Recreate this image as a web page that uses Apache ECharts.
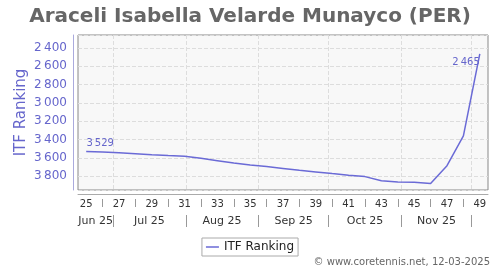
<!DOCTYPE html>
<html><head><meta charset="utf-8">
<script src="https://cdn.jsdelivr.net/npm/echarts@6/dist/echarts.min.js"></script>
<style>html,body{margin:0;padding:0;background:#fff}#c{width:500px;height:270px}</style>
</head><body><div id="c"></div>
<script>
const titleText = 'Araceli Isabella Velarde Munayco (PER)';
const seriesName = 'ITF Ranking';
const weeks = ['25','26','27','28','29','30','31','32','33','34','35','36','37','38','39','40','41','42','43','44','45','46','47','48','49'];
const ranking = [3529,3535,3545,3556,3567,3575,3582,3605,3630,3655,3677,3695,3715,3735,3753,3771,3788,3804,3850,3862,3866,3880,3685,3360,2465];
const monthLabels = ['Jun 25','Jul 25','Aug 25','Sep 25','Oct 25','Nov 25','Dec 25'];
const monthStarts = ['2025-06-01','2025-07-01','2025-08-01','2025-09-01','2025-10-01','2025-11-01','2025-12-01','2026-01-01'];
const firstWeekMonday = '2025-06-16';
const copyright = '\u00a9 www.coretennis.net, 12-03-2025';

const firstWeek = Number(weeks[0]);
const lo = firstWeek - 0.5, hi = Number(weeks[weeks.length-1]) + 0.5;
const mondayT = Date.parse(firstWeekMonday);
const pos = d => lo + (Date.parse(d) - mondayT) / (7*864e5);
const boundaries = monthStarts.map(pos).filter(p => p > lo && p < hi);
const mids = [];
for (let i = 0; i < monthLabels.length; i++) {
  const a = Math.max(pos(monthStarts[i]), lo), b = Math.min(pos(monthStarts[i+1]), hi);
  if (b - a > 2) mids.push({v: (a+b)/2, t: monthLabels[i]});
}
const fmt = v => String(v).replace(/\B(?=(\d{3})+(?!\d))/g, '\u2009');
const lineColor = '#6a6ad6';
const data = ranking.map((v, i) => {
  const o = {value: v};
  if (i === 0) o.label = {show: true, position: 'top', distance: 3, offset: [14, 0]};
  if (i === ranking.length-1) o.label = {show: true, position: 'left', distance: 1, offset: [1, 9]};
  return o;
});
const chart = echarts.init(document.getElementById('c'), null, {renderer:'canvas'});
chart.setOption({
  animation: false,
  textStyle: {fontFamily: 'DejaVu Sans'},
  title: {text: titleText, left: 'center', top: 2, textStyle: {fontSize: 20, fontWeight: 'bold', color: '#666', fontFamily: 'DejaVu Sans'}},
  grid: {left: 78, right: 12, top: 35, bottom: 80, show: true, borderColor: '#888', borderWidth: 1, backgroundColor: '#f8f8f8'},
  legend: {data: [{name: seriesName, icon: 'rect'}], left: 'center', top: 238, borderColor: '#aaa', borderWidth: 1, borderRadius: 0, padding: [3,4,3,4], itemWidth: 13, itemHeight: 1.5, itemGap: 5, textStyle: {fontSize: 12, color: '#222'}},
  xAxis: [
    {type: 'category', data: weeks, boundaryGap: true, position: 'bottom', offset: 4,
     axisLine: {lineStyle: {color: '#aaa'}}, axisTick: {show: false},
     axisLabel: {interval: (i) => i % 2 === 0, fontSize: 10, color: '#333', margin: 5}, splitLine: {show: false}},
    {type: 'category', data: weeks, boundaryGap: true, position: 'bottom', offset: 9,
     axisLine: {show: false}, axisTick: {show: true, alignWithLabel: true, interval: (i) => i % 2 === 1, length: 8, lineStyle: {color: '#999'}},
     axisLabel: {show: false}, splitLine: {show: false}},
    {type: 'value', min: lo, max: hi, position: 'bottom', offset: 25,
     axisLine: {show: false},
     axisTick: {show: true, customValues: boundaries, length: 12, lineStyle: {color: '#999'}},
     axisLabel: {customValues: mids.map(m => m.v), formatter: v => { const m = mids.find(x => Math.abs(x.v - v) < 1e-6); return m ? m.t : ''; }, fontSize: 11, color: '#333', margin: 1},
     splitLine: {show: true, lineStyle: {color: '#ddd', type: 'dashed'}}}
  ],
  yAxis: {type: 'value', inverse: true, min: 2260, max: 3950, splitNumber: 8, offset: 5,
    name: seriesName, nameLocation: 'middle', nameGap: 44, nameMoveOverlap: false, nameTextStyle: {fontSize: 15, color: '#6666cc'},
    axisLine: {show: true, lineStyle: {color: '#aaaadd'}}, axisTick: {show: false},
    axisLabel: {formatter: fmt, fontSize: 12, color: '#6666cc', margin: 6, showMinLabel: false, showMaxLabel: false},
    splitLine: {show: true, lineStyle: {color: '#ddd', type: 'dashed'}}},
  series: [{name: seriesName, type: 'line', xAxisIndex: 0, data: data, symbol: 'circle', symbolSize: 0.01, showSymbol: true,
    lineStyle: {color: lineColor, width: 1.5}, itemStyle: {color: lineColor},
    label: {show: false, formatter: p => fmt(p.value), fontSize: 10, color: '#6666cc'}}],
  graphic: [{type: 'text', right: 10, bottom: 3, style: {text: copyright, fontSize: 10, fill: '#666', fontFamily: 'DejaVu Sans'}}]
});
</script></body></html>
